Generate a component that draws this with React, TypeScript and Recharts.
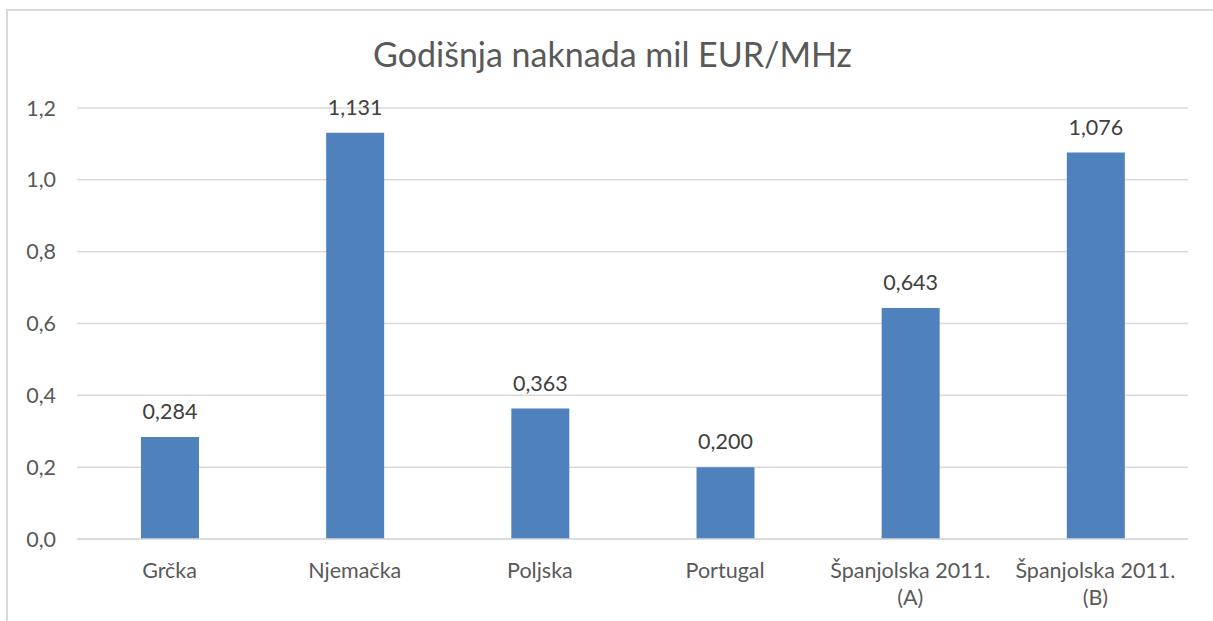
import React from 'react';
import { BarChart, Bar, XAxis, YAxis, CartesianGrid, LabelList } from 'recharts';

const categories = ['Grčka', 'Njemačka', 'Poljska', 'Portugal', 'Španjolska 2011.\n(A)', 'Španjolska 2011.\n(B)'];
const values = [0.284, 1.131, 0.363, 0.2, 0.643, 1.076];
const yTicks = [0, 0.2, 0.4, 0.6, 0.8, 1.0, 1.2];
const title = 'Godišnja naknada mil EUR/MHz';

const data = categories.map((c, i) => ({ name: c, value: values[i] }));

const FONT = 'Lato, "Open Sans", sans-serif';

const XTick = (props: any) => {
  const { x, y, payload } = props;
  const lines = String(payload.value).split('\n');
  return (
    <text x={x} y={y} textAnchor="middle" fill="#595959" fontSize={21.5} fontFamily={FONT}>
      {lines.map((l, i) => (
        <tspan key={i} x={x} dy={i === 0 ? 31 : 27}>{l}</tspan>
      ))}
    </text>
  );
};

export default function App() {
  return (
    <div style={{ position: 'absolute', left: 0, top: 0, width: 1213, height: 621, background: '#fff', overflow: 'hidden' }}>
      <div style={{ position: 'absolute', left: 6, top: 9, width: 1240, height: 660, border: '2px solid #d9d9d9', boxSizing: 'border-box' }} />
      <div style={{ position: 'absolute', left: 0, top: 34, width: 1225, textAlign: 'center', fontFamily: FONT, fontSize: 34, lineHeight: '40px', color: '#595959' }}>
        {title}
      </div>
      <div style={{ position: 'absolute', left: 0, top: 0 }}>
        <BarChart width={1213} height={621} data={data} margin={{ top: 108, right: 25, left: 17, bottom: 0 }}>
          <CartesianGrid vertical={false} stroke="#d9d9d9" strokeWidth={1.5} />
          <XAxis dataKey="name" height={82} axisLine={{ stroke: '#d9d9d9', strokeWidth: 1.5 }} tickLine={false} tick={<XTick />} interval={0} />
          <YAxis
            width={60}
            domain={[0, 1.2]}
            ticks={yTicks}
            axisLine={false}
            tickLine={false}
            tickSize={0}
            tickMargin={21}
            tick={{ fill: '#595959', fontSize: 21.5, fontFamily: FONT }}
            tickFormatter={(v: number) => v.toFixed(1).replace('.', ',')}
          />
          <Bar dataKey="value" fill="#4f81bd" barSize={58} isAnimationActive={false}>
            <LabelList
              dataKey="value"
              position="top"
              offset={18}
              fill="#404040"
              fontSize={21.5}
              fontFamily={FONT}
              formatter={(v: any) => Number(v).toFixed(3).replace('.', ',')}
            />
          </Bar>
        </BarChart>
      </div>
    </div>
  );
}
